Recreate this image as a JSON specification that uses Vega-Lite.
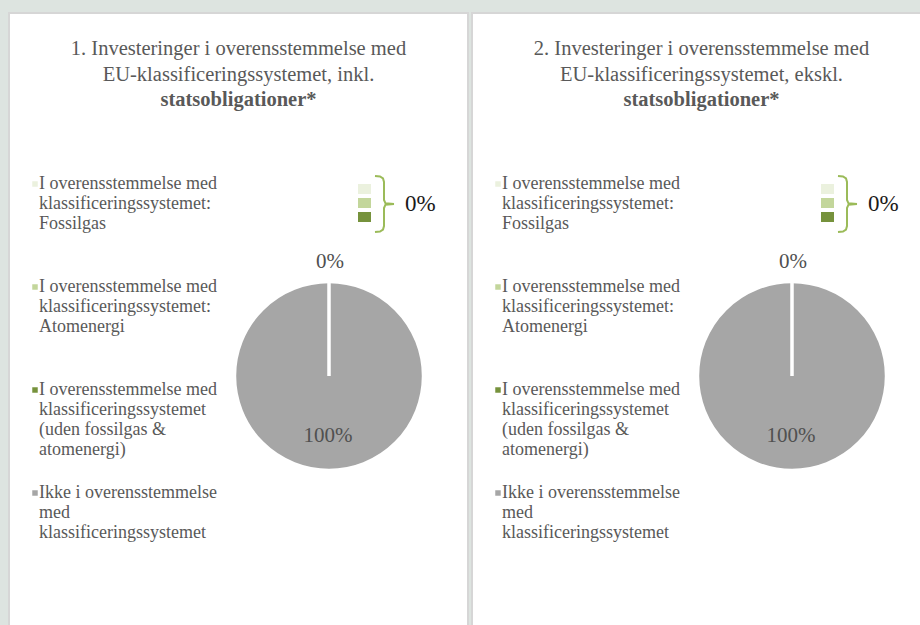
{
  "$schema": "https://vega.github.io/schema/vega-lite/v6.json",
  "background": "#dde4e0",
  "padding": {"left": 8, "top": 12, "right": 0, "bottom": 0},
  "spacing": 2,
  "config": {
    "font": "Liberation Serif",
    "view": {"fill": "white", "stroke": "#d6d6d6", "strokeWidth": 2},
    "title": {"anchor": "middle", "orient": "top", "frame": "group", "font": "Liberation Serif", "fontSize": 20.5, "fontWeight": "normal", "color": "#595959", "lineHeight": 26, "subtitleFont": "Liberation Serif", "subtitleFontSize": 20.5, "subtitleFontWeight": "bold", "subtitleColor": "#595959", "subtitleLineHeight": 26, "subtitlePadding": 4, "offset": -97}
  },
  "datasets": {
    "pie": [
      {"cat": "I overensstemmelse med|klassificeringssystemet:|Fossilgas|", "pct": 0},
      {"cat": "I overensstemmelse med|klassificeringssystemet:|Atomenergi|", "pct": 0},
      {"cat": "I overensstemmelse med|klassificeringssystemet|(uden fossilgas &|atomenergi)", "pct": 0},
      {"cat": "Ikke i overensstemmelse|med|klassificeringssystemet", "pct": 100}
    ],
    "swatch": [
      {"cat": "I overensstemmelse med|klassificeringssystemet:|Fossilgas|", "x": 349, "x2": 362, "y": 171, "y2": 181},
      {"cat": "I overensstemmelse med|klassificeringssystemet:|Atomenergi|", "x": 349, "x2": 362, "y": 185, "y2": 195},
      {"cat": "I overensstemmelse med|klassificeringssystemet|(uden fossilgas &|atomenergi)", "x": 349, "x2": 362, "y": 199, "y2": 209}
    ],
    "brace": [
      {"part": "upper", "ord": 1, "x": 366, "y": 163},
      {"part": "upper", "ord": 2, "x": 371, "y": 163.5},
      {"part": "upper", "ord": 3, "x": 374, "y": 165.5},
      {"part": "upper", "ord": 4, "x": 375, "y": 169},
      {"part": "upper", "ord": 5, "x": 375, "y": 187},
      {"part": "upper", "ord": 6, "x": 376.5, "y": 190.3},
      {"part": "upper", "ord": 7, "x": 385, "y": 191},
      {"part": "lower", "ord": 1, "x": 385, "y": 191},
      {"part": "lower", "ord": 2, "x": 376.5, "y": 191.7},
      {"part": "lower", "ord": 3, "x": 375, "y": 195},
      {"part": "lower", "ord": 4, "x": 375, "y": 213},
      {"part": "lower", "ord": 5, "x": 374, "y": 216.5},
      {"part": "lower", "ord": 6, "x": 371, "y": 218.5},
      {"part": "lower", "ord": 7, "x": 366, "y": 219}
    ],
    "slicegap": [
      {"slice": "0% slices", "angle": 0}
    ],
    "pielabels": [
      {"label": "0%", "x": 321, "y": 249},
      {"label": "100%", "x": 319, "y": 423}
    ],
    "bracelabel": [
      {"label": "0%", "x": 396, "y": 191}
    ]
  },
  "hconcat": [
    {
      "width": 459,
      "height": 613,
      "title": {"text": ["1. Investeringer i overensstemmelse med", "EU-klassificeringssystemet, inkl."], "subtitle": "statsobligationer*"},
      "layer": [
        {
          "data": {"name": "pie"},
          "mark": {"type": "arc", "radius": 94.5, "stroke": "white", "strokeWidth": 3.5},
          "encoding": {
            "theta": {"field": "pct", "type": "quantitative"},
            "color": {"field": "cat", "type": "nominal", "sort": null,
              "scale": {"domain": ["I overensstemmelse med|klassificeringssystemet:|Fossilgas|", "I overensstemmelse med|klassificeringssystemet:|Atomenergi|", "I overensstemmelse med|klassificeringssystemet|(uden fossilgas &|atomenergi)", "Ikke i overensstemmelse|med|klassificeringssystemet"], "range": ["#ebf1de", "#c3d69b", "#76923c", "#a6a6a6"]},
              "legend": {"orient": "none", "legendX": 20, "legendY": 162, "title": null, "padding": 0, "symbolType": "square", "symbolSize": 30, "symbolStrokeWidth": 0, "symbolOffset": -3, "labelFont": "Liberation Serif", "labelFontSize": 18, "labelColor": "#595959", "labelLineHeight": 21, "labelBaseline": "middle", "labelLimit": 400, "labelOffset": -5, "rowPadding": 25, "labelExpr": "split(datum.label, '|')"}},
            "x": {"datum": 320, "type": "quantitative", "scale": {"domain": [0, 459], "nice": false, "zero": false}, "axis": null},
            "y": {"datum": 363, "type": "quantitative", "scale": {"domain": [0, 613], "nice": false, "zero": false, "reverse": true}, "axis": null}
          }
        },
        {
          "data": {"name": "slicegap"},
          "mark": {"type": "rule", "color": "white", "strokeWidth": 3.5},
          "encoding": {
            "x": {"datum": 320, "type": "quantitative"},
            "y": {"datum": 266, "type": "quantitative"},
            "y2": {"datum": 363}
          }
        },
        {
          "data": {"name": "swatch"},
          "mark": {"type": "rect"},
          "encoding": {
            "x": {"field": "x", "type": "quantitative"},
            "x2": {"field": "x2"},
            "y": {"field": "y", "type": "quantitative"},
            "y2": {"field": "y2"},
            "color": {"field": "cat", "type": "nominal", "legend": null}
          }
        },
        {
          "data": {"name": "brace"},
          "mark": {"type": "line", "color": "#9bbb59", "strokeWidth": 2},
          "encoding": {
            "x": {"field": "x", "type": "quantitative"},
            "y": {"field": "y", "type": "quantitative"},
            "detail": {"field": "part"},
            "order": {"field": "ord", "type": "quantitative"}
          }
        },
        {
          "data": {"name": "pielabels"},
          "mark": {"type": "text", "fontSize": 21, "color": "#505050", "align": "center", "baseline": "middle"},
          "encoding": {
            "x": {"field": "x", "type": "quantitative"},
            "y": {"field": "y", "type": "quantitative"},
            "text": {"field": "label"}
          }
        },
        {
          "data": {"name": "bracelabel"},
          "mark": {"type": "text", "fontSize": 23, "color": "#1a1a1a", "align": "left", "baseline": "middle"},
          "encoding": {
            "x": {"field": "x", "type": "quantitative"},
            "y": {"field": "y", "type": "quantitative"},
            "text": {"field": "label"}
          }
        }
      ]
    },
    {
      "width": 459,
      "height": 613,
      "title": {"text": ["2. Investeringer i overensstemmelse med", "EU-klassificeringssystemet, ekskl."], "subtitle": "statsobligationer*"},
      "layer": [
        {
          "data": {"name": "pie"},
          "mark": {"type": "arc", "radius": 94.5, "stroke": "white", "strokeWidth": 3.5},
          "encoding": {
            "theta": {"field": "pct", "type": "quantitative"},
            "color": {"field": "cat", "type": "nominal", "sort": null,
              "scale": {"domain": ["I overensstemmelse med|klassificeringssystemet:|Fossilgas|", "I overensstemmelse med|klassificeringssystemet:|Atomenergi|", "I overensstemmelse med|klassificeringssystemet|(uden fossilgas &|atomenergi)", "Ikke i overensstemmelse|med|klassificeringssystemet"], "range": ["#ebf1de", "#c3d69b", "#76923c", "#a6a6a6"]},
              "legend": {"orient": "none", "legendX": 20, "legendY": 162, "title": null, "padding": 0, "symbolType": "square", "symbolSize": 30, "symbolStrokeWidth": 0, "symbolOffset": -3, "labelFont": "Liberation Serif", "labelFontSize": 18, "labelColor": "#595959", "labelLineHeight": 21, "labelBaseline": "middle", "labelLimit": 400, "labelOffset": -5, "rowPadding": 25, "labelExpr": "split(datum.label, '|')"}},
            "x": {"datum": 320, "type": "quantitative", "scale": {"domain": [0, 459], "nice": false, "zero": false}, "axis": null},
            "y": {"datum": 363, "type": "quantitative", "scale": {"domain": [0, 613], "nice": false, "zero": false, "reverse": true}, "axis": null}
          }
        },
        {
          "data": {"name": "slicegap"},
          "mark": {"type": "rule", "color": "white", "strokeWidth": 3.5},
          "encoding": {
            "x": {"datum": 320, "type": "quantitative"},
            "y": {"datum": 266, "type": "quantitative"},
            "y2": {"datum": 363}
          }
        },
        {
          "data": {"name": "swatch"},
          "mark": {"type": "rect"},
          "encoding": {
            "x": {"field": "x", "type": "quantitative"},
            "x2": {"field": "x2"},
            "y": {"field": "y", "type": "quantitative"},
            "y2": {"field": "y2"},
            "color": {"field": "cat", "type": "nominal", "legend": null}
          }
        },
        {
          "data": {"name": "brace"},
          "mark": {"type": "line", "color": "#9bbb59", "strokeWidth": 2},
          "encoding": {
            "x": {"field": "x", "type": "quantitative"},
            "y": {"field": "y", "type": "quantitative"},
            "detail": {"field": "part"},
            "order": {"field": "ord", "type": "quantitative"}
          }
        },
        {
          "data": {"name": "pielabels"},
          "mark": {"type": "text", "fontSize": 21, "color": "#505050", "align": "center", "baseline": "middle"},
          "encoding": {
            "x": {"field": "x", "type": "quantitative"},
            "y": {"field": "y", "type": "quantitative"},
            "text": {"field": "label"}
          }
        },
        {
          "data": {"name": "bracelabel"},
          "mark": {"type": "text", "fontSize": 23, "color": "#1a1a1a", "align": "left", "baseline": "middle"},
          "encoding": {
            "x": {"field": "x", "type": "quantitative"},
            "y": {"field": "y", "type": "quantitative"},
            "text": {"field": "label"}
          }
        }
      ]
    }
  ],
  "resolve": {"scale": {"color": "independent", "x": "independent", "y": "independent"}, "legend": {"color": "independent"}}
}
